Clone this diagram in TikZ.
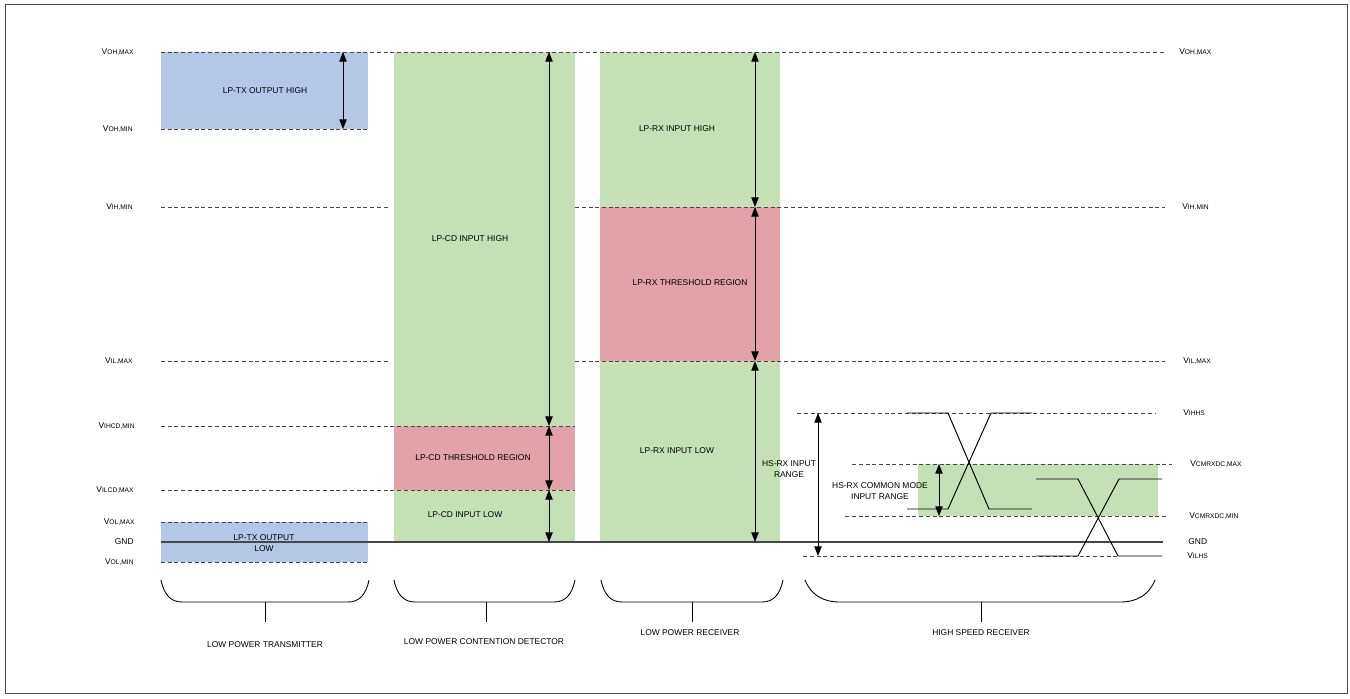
\documentclass[tikz,border=0pt]{standalone}
\usepackage{fontspec}
\setmainfont{Liberation Sans}
\usepackage{xcolor}
\usepackage{tikz}
\usetikzlibrary{arrows.meta,positioning}

\definecolor{txblue}{RGB}{180,199,231}
\definecolor{rxgreen}{RGB}{197,224,180}
\definecolor{thred}{RGB}{227,161,169}
\definecolor{lvlgray}{RGB}{70,70,70}

\newcommand{\vlab}[1]{V{\fontsize{3.8}{4.5}\selectfont #1}}

\tikzset{
  lvl/.style={draw=lvlgray, dash pattern=on 0.8mm off 0.55mm, line width=0.45pt},
  gnd/.style={draw=lvlgray, line width=0.6pt},
  span/.style={{Triangle[length=5.5pt,width=4.2pt]}-{Triangle[length=5.5pt,width=4.2pt]}, line width=0.5pt},
  txt/.style={font=\fontsize{4.8}{6.6}\selectfont, align=center, inner sep=0pt},
  vl/.style={font=\fontsize{4.8}{5.8}\selectfont, inner sep=0pt, anchor=east},
  vr/.style={font=\fontsize{4.8}{5.8}\selectfont, inner sep=0pt, anchor=west},
  brace/.style={draw, line width=0.5pt},
  wave/.style={draw, line width=0.55pt}
}

\begin{document}
\begin{tikzpicture}[x=0.02cm,y=-0.02cm]
\useasboundingbox (0,0) rectangle (1350,698);
\draw[gray!60!black, line width=0.5pt] (5,4) rectangle (1347,693);

% regions
\fill[txblue] (161,52) rectangle (368,129);
\fill[txblue] (161,522) rectangle (368,562);
\fill[rxgreen] (394,52) rectangle (575,542);
\fill[thred] (394,426) rectangle (575,490);
\fill[rxgreen] (600,52) rectangle (780,542);
\fill[thred] (600,207) rectangle (780,361);
\fill[rxgreen] (918,464) rectangle (1158,516);

% levels
\draw[lvl] (161,52) -- (1165,52);
\draw[lvl] (161,129) -- (368,129);
\draw[lvl] (161,207) -- (390,207) (575,207) -- (1165,207);
\draw[lvl] (161,361) -- (390,361) (575,361) -- (1165,361);
\draw[lvl] (161,426) -- (575,426);
\draw[lvl] (161,490) -- (575,490);
\draw[lvl] (161,522) -- (368,522);
\draw[gnd] (161,542) -- (1163,542);
\draw[lvl] (161,562) -- (368,562);
\draw[lvl] (797,413) -- (1155,413);
\draw[lvl] (852,464) -- (1172,464);
\draw[lvl] (845,516) -- (1168,516);
\draw[lvl] (803,556) -- (1120,556);

% level names
\node[vl] (ohmaxl) at (134,52) {\vlab{OH,MAX}};
\node[vl] (ohminl) at (133,129) {\vlab{OH,MIN}};
\node[vl] (ihminl) at (133,207) {\vlab{IH,MIN}};
\node[vl] (ilmaxl) at (133,361) {\vlab{IL,MAX}};
\node[vl] (ihcdl) at (135,426) {\vlab{IHCD,MIN}};
\node[vl] (ilcdl) at (134,490) {\vlab{ILCD,MAX}};
\node[vl] (olmaxl) at (135,522) {\vlab{OL,MAX}};
\node[vl] (gndl) at (134,542) {GND};
\node[vl] (olminl) at (134,562) {\vlab{OL,MIN}};
\node[vr] (ohmaxr) at (1179,52) {\vlab{OH,MAX}};
\node[vr] (ihminr) at (1182,207) {\vlab{IH,MIN}};
\node[vr] (ilmaxr) at (1183,361) {\vlab{IL,MAX}};
\node[vr] (ihhsr) at (1183,413) {\vlab{IHHS}};
\node[vr] (cmmaxr) at (1190,464) {\vlab{CMRXDC,MAX}};
\node[vr] (cmminr) at (1189,516) {\vlab{CMRXDC,MIN}};
\node[vr] (gndr) at (1188,542) {GND};
\node[vr] (ilhsr) at (1187,556) {\vlab{ILHS}};

% region names
\node[txt] (txhigh) at (265,91) {LP-TX OUTPUT HIGH};
\node[txt] (txlow) at (264,543) {LP-TX OUTPUT\\LOW};
\node[txt] (cdhigh) at (470,239) {LP-CD INPUT HIGH};
\node[txt] (cdthr) at (473,458) {LP-CD THRESHOLD REGION};
\node[txt] (cdlow) at (465,515) {LP-CD INPUT LOW};
\node[txt] (rxhigh) at (677,129) {LP-RX INPUT HIGH};
\node[txt] (rxthr) at (690,283) {LP-RX THRESHOLD REGION};
\node[txt] (rxlow) at (677,451) {LP-RX INPUT LOW};
\node[txt] (hsin) at (789,469) {HS-RX INPUT\\RANGE};
\node[txt] (hscm) at (880,491) {HS-RX COMMON MODE\\INPUT RANGE};

% ranges
\draw[span] (343,52) -- (343,129);
\draw[span] (549,52) -- (549,426);
\draw[span] (549,426) -- (549,490);
\draw[span] (549,490) -- (549,542);
\draw[span] (755,52) -- (755,207);
\draw[span] (755,207) -- (755,361);
\draw[span] (755,361) -- (755,542);
\draw[span] (818,413) -- (818,556);
\draw[span] (939,464) -- (939,516);

% hs eyes
\draw[wave] (907,413) -- (948,413) -- (989,509) -- (1032,509);
\draw[wave] (907,509) -- (948,509) -- (991,413) -- (1032,413);
\draw[wave] (1036,479) -- (1078,479) -- (1118,556) -- (1162,556);
\draw[wave] (1036,556) -- (1078,556) -- (1119,479) -- (1162,479);

% blocks
\draw[brace] (161,580) .. controls (164,595) and (171,602) .. (182,602) -- (348,602) .. controls (359,602) and (366,595) .. (369,580);
\draw[brace] (265,602) -- (265,622);
\draw[brace] (394,580) .. controls (397,595) and (404,602) .. (415,602) -- (554,602) .. controls (565,602) and (572,595) .. (575,580);
\draw[brace] (486,602) -- (486,622);
\draw[brace] (601,580) .. controls (604,595) and (611,602) .. (622,602) -- (762,602) .. controls (773,602) and (780,595) .. (783,580);
\draw[brace] (692,602) -- (692,622);
\draw[brace] (805,580) .. controls (811,595) and (823,602) .. (840,602) -- (1120,602) .. controls (1137,602) and (1149,595) .. (1155,580);
\draw[brace] (981,602) -- (981,622);

\node[txt] (lptx) at (265,645) {LOW POWER TRANSMITTER};
\node[txt] (lpcd) at (484,642) {LOW POWER CONTENTION DETECTOR};
\node[txt] (lprx) at (690,633) {LOW POWER RECEIVER};
\node[txt] (hsrx) at (981,633) {HIGH SPEED RECEIVER};
\end{tikzpicture}
\end{document}
